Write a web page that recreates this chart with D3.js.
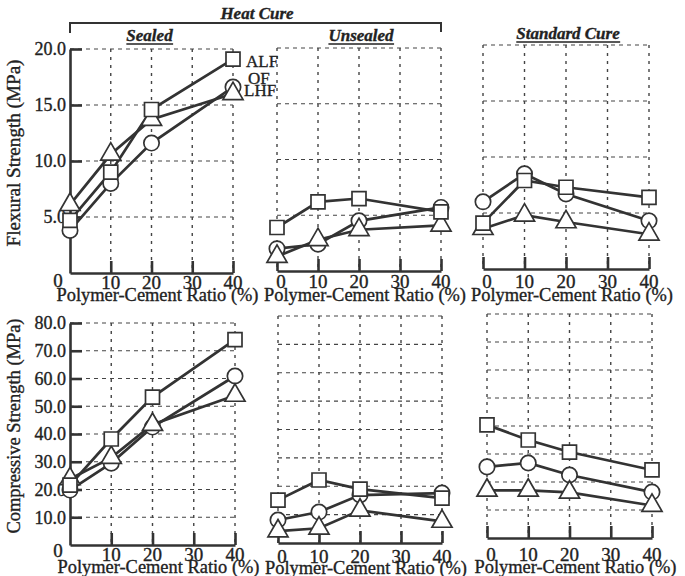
<!DOCTYPE html>
<html>
<head>
<meta charset="utf-8">
<script src="https://cdn.jsdelivr.net/npm/d3@7"></script>
<style>
body { margin: 0; background: #fff; }
svg { display: block; }
</style>
</head>
<body>
<div id="chart"></div>
<script>
const w = 685;
const h = 576;
const serif = "'Liberation Serif', 'DejaVu Serif', 'Times New Roman', Times, serif";

const ratio = [0, 10, 20, 40];
const xTicks = [0, 10, 20, 30, 40];
const flexTicks = [5, 10, 15, 20];
const compTicks = [10, 20, 30, 40, 50, 60, 70, 80];
const seriesNames = ["ALF", "OF", "LHF"];

// flexural strength (MPa)
const flexSealedALF = [4.7, 9.0, 14.6, 19.1];
const flexSealedOF = [3.8, 8.0, 11.6, 16.6];
const flexSealedLHF = [6.1, 10.6, 13.7, 16.0];

const flexUnsealedALF = [3.9, 6.2, 6.5, 5.3];
const flexUnsealedOF = [2.0, 2.4, 4.5, 5.7];
const flexUnsealedLHF = [1.3, 2.8, 3.7, 4.1];

const flexStdALF = [4.1, 7.9, 7.3, 6.4];
const flexStdOF = [6.0, 8.5, 6.7, 4.3];
const flexStdLHF = [3.6, 4.8, 4.2, 3.1];

// compressive strength (MPa)
const compSealedALF = [21.6, 38.2, 53.3, 74.0];
const compSealedOF = [19.8, 29.5, 42.5, 60.9];
const compSealedLHF = [23.8, 31.5, 43.4, 53.9];

const compUnsealedALF = [15.1, 22.2, 19.0, 15.8];
const compUnsealedOF = [8.1, 10.9, 16.9, 17.6];
const compUnsealedLHF = [4.2, 5.2, 11.5, 7.6];

const compStdALF = [40.4, 35.0, 30.7, 24.3];
const compStdOF = [25.4, 26.8, 22.5, 16.4];
const compStdLHF = [17.0, 17.0, 16.3, 11.6];

const svg = d3.select("#chart").append("svg")
    .attr("width", w)
    .attr("height", h)
    .attr("viewBox", "0 0 " + w + " " + h);

const ink = "#333";

function label(sel, size) {
    return sel.attr("font-family", serif)
        .style("font-family", serif)
        .style("font-size", size + "px")
        .attr("fill", "#222")
        .attr("stroke", "#222")
        .attr("stroke-width", 0.35);
}

// panel layout (pixel geometry of each scanned panel)
const panels = [
    {x0: 70, x1: 233, top: 49, zero: 273, max: 20, ticks: flexTicks, left: true, title: "Sealed",
        series: [flexSealedALF, flexSealedOF, flexSealedLHF], tickY: 289, zeroY: 287, labelY: 301},
    {x0: 277, x1: 441, top: 48, zero: 271, max: 20, ticks: flexTicks, left: false, title: "Unsealed",
        series: [flexUnsealedALF, flexUnsealedOF, flexUnsealedLHF], tickY: 288, zeroY: 288, labelY: 301},
    {x0: 483, x1: 649, top: 45, zero: 269, max: 20, ticks: flexTicks, left: false, title: "Standard Cure",
        series: [flexStdALF, flexStdOF, flexStdLHF], tickY: 288, zeroY: 288, labelY: 301},
    {x0: 70, x1: 235, top: 323, zero: 545, max: 80, ticks: compTicks, left: true, title: null,
        series: [compSealedALF, compSealedOF, compSealedLHF], tickY: 561, zeroY: 557, labelY: 573},
    {x0: 278, x1: 442, top: 316, zero: 543, max: 80, ticks: compTicks, left: false, title: null,
        series: [compUnsealedALF, compUnsealedOF, compUnsealedLHF], tickY: 563, zeroY: 563, labelY: 574},
    {x0: 487, x1: 652, top: 314, zero: 538, max: 80, ticks: compTicks, left: false, title: null,
        series: [compStdALF, compStdOF, compStdLHF], tickY: 561, zeroY: 561, labelY: 573}
];

const symbols = [
    d3.symbol(d3.symbolSquare, 196),
    d3.symbol(d3.symbolCircle, 185),
    d3.symbol(d3.symbolTriangle, 175)
];

panels.forEach(function(p) {
    const x = d3.scaleLinear().domain([0, 40]).range([p.x0, p.x1]);
    const y = d3.scaleLinear().domain([0, p.max]).range([p.zero, p.top]);
    const g = svg.append("g");

    // dashed grid
    g.selectAll("line.hgrid")
        .data(p.ticks)
        .enter()
        .append("line")
        .attr("class", "hgrid")
        .attr("x1", x(0)).attr("x2", x(40))
        .attr("y1", d => y(d)).attr("y2", d => y(d))
        .attr("stroke", "#444")
        .attr("stroke-width", 1.2)
        .attr("stroke-dasharray", "4,4");

    g.selectAll("line.vgrid")
        .data(p.left ? xTicks.slice(1) : xTicks)
        .enter()
        .append("line")
        .attr("class", "vgrid")
        .attr("x1", d => x(d)).attr("x2", d => x(d))
        .attr("y1", y(p.max)).attr("y2", y(0))
        .attr("stroke", "#444")
        .attr("stroke-width", 1.4)
        .attr("stroke-dasharray", "3,5");

    // bottom axis with inward ticks
    const xAxis = g.append("g")
        .attr("transform", "translate(0," + y(0) + ")")
        .call(d3.axisBottom(x).tickValues(p.left ? xTicks.slice(1) : xTicks)
            .tickSizeInner(-12).tickSizeOuter(0).tickFormat(""));
    xAxis.selectAll("path, line").attr("stroke", ink).attr("stroke-width", 2.6);

    // left axis for the sealed panels
    if (p.left) {
        const yAxis = g.append("g")
            .attr("transform", "translate(" + x(0) + ",0)")
            .call(d3.axisLeft(y).tickValues(p.ticks).tickSizeInner(-12).tickSizeOuter(0)
                .tickPadding(4).tickFormat(d3.format(".1f")));
        yAxis.selectAll("path, line").attr("stroke", ink).attr("stroke-width", 2.6);
        label(yAxis.selectAll("text"), 18);
        label(g.append("text"), 19)
            .attr("x", 58).attr("y", p.zeroY)
            .attr("text-anchor", "middle")
            .text("0");
    }

    // tick labels
    label(g.selectAll("text.xt")
        .data(p.left ? xTicks.slice(1) : xTicks)
        .enter()
        .append("text")
        .attr("class", "xt"), 19)
        .attr("x", d => d === 0 ? x(d) + 4 : x(d))
        .attr("y", d => d === 0 ? p.zeroY : p.tickY)
        .attr("text-anchor", "middle")
        .text(d => d);

    // x title
    label(g.append("text"), 19)
        .attr("x", (p.x0 + p.x1) / 2 + 6)
        .attr("y", p.labelY)
        .attr("text-anchor", "middle")
        .attr("textLength", 202)
        .attr("lengthAdjust", "spacingAndGlyphs")
        .text("Polymer-Cement Ratio (%)");

    // lines
    const line = d3.line().x((d, i) => x(ratio[i])).y(d => y(d));
    g.selectAll("path.series")
        .data(p.series)
        .enter()
        .append("path")
        .attr("class", "series")
        .attr("d", line)
        .attr("fill", "none")
        .attr("stroke", ink)
        .attr("stroke-width", 2.7);

    // markers: circles, triangles, then squares on top
    [1, 2, 0].forEach(function(s) {
        g.selectAll("path.m" + s)
            .data(p.series[s])
            .enter()
            .append("path")
            .attr("class", "m" + s)
            .attr("d", symbols[s])
            .attr("transform", (d, i) => "translate(" + x(ratio[i]) + "," + y(d) + ")")
            .attr("fill", "#fff")
            .attr("stroke", ink)
            .attr("stroke-width", 1.7);
    });

    // panel title
    if (p.title) {
        const t = label(g.append("text"), 17)
            .attr("x", (p.x0 + p.x1) / 2 + (p.left ? -2 : 2))
            .attr("y", p.title === "Standard Cure" ? 39 : 41)
            .attr("text-anchor", "middle")
            .style("font-weight", "bold")
            .style("font-style", "italic")
            .text(p.title);
        const b = t.node().getBBox();
        g.append("line")
            .attr("x1", b.x).attr("x2", b.x + b.width)
            .attr("y1", b.y + b.height - 1).attr("y2", b.y + b.height - 1)
            .attr("stroke", "#222").attr("stroke-width", 1.6);
    }
});

// Heat Cure bracket
svg.append("path")
    .attr("d", "M70,33V23H441V32")
    .attr("fill", "none")
    .attr("stroke", ink)
    .attr("stroke-width", 2);
label(svg.append("text"), 17)
    .attr("x", 257).attr("y", 19)
    .attr("text-anchor", "middle")
    .style("font-weight", "bold")
    .style("font-style", "italic")
    .text("Heat Cure");

// legend labels beside the sealed flexural curves
const legendY = [67, 84, 96];
const legendX = [246, 248, 244];
label(svg.selectAll("text.legend")
    .data(seriesNames)
    .enter()
    .append("text")
    .attr("class", "legend"), 17)
    .attr("x", (d, i) => legendX[i])
    .attr("y", (d, i) => legendY[i])
    .text(d => d);

// y titles
label(svg.append("text"), 18)
    .attr("transform", "translate(20,153) rotate(-90)")
    .attr("text-anchor", "middle")
    .attr("textLength", 187)
    .attr("lengthAdjust", "spacingAndGlyphs")
    .text("Flexural Strength (MPa)");
label(svg.append("text"), 18)
    .attr("transform", "translate(20,426) rotate(-90)")
    .attr("text-anchor", "middle")
    .attr("textLength", 215)
    .attr("lengthAdjust", "spacingAndGlyphs")
    .text("Compressive Strength (MPa)");
</script>
</body>
</html>
